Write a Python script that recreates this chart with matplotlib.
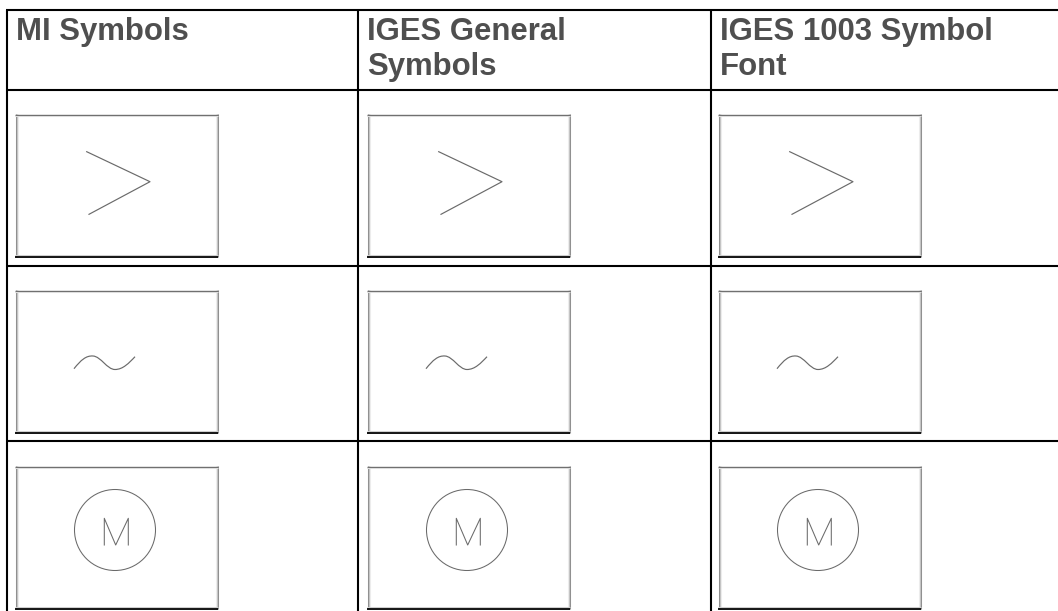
import matplotlib
matplotlib.use("Agg")
import matplotlib.pyplot as plt
from matplotlib.patches import Circle, PathPatch
from matplotlib.path import Path

W, H = 1058, 611
headers = [["MI Symbols"], ["IGES General", "Symbols"], ["IGES 1003 Symbol", "Font"]]
col_lines = [7, 358, 711]
row_lines = [9.5, 89.5, 265.5, 441]
box_lefts = [15, 367, 718]
box_tops = [114, 290, 466]
box_w, box_h = 203, 143
header_baselines = [40, 75]

# symbol geometry relative to box top-left, pixels
arrow_x = [71.7, 135, 74]
arrow_y = [37.7, 67.7, 100.3]
wave_verts = [(59, 78.7), (66, 70), (71, 65.5), (78, 66), (86, 66.5), (92, 79.5), (100, 79.5),
              (108, 79.5), (114, 73), (120, 66.7)]
circle_c = (100, 64)
circle_r = 40.5
m_x = [89.3, 89.3, 100.7, 113.3, 113.3]
m_y = [79, 52.3, 79, 52.3, 79]

fig = plt.figure(figsize=(W / 100, H / 100), dpi=100, facecolor="white")
ax = fig.add_axes([0, 0, 1, 1])
ax.set_xlim(0, W)
ax.set_ylim(H, 0)
ax.axis("off")

# table grid
for x in col_lines:
    ax.plot([x, x], [row_lines[0], H], color="black", lw=1.5, solid_capstyle="butt")
for y in row_lines:
    ax.plot([col_lines[0] - 1, W], [y, y], color="black", lw=1.5, solid_capstyle="butt")

# headers
for left, lines in zip(col_lines, headers):
    for base, text in zip(header_baselines, lines):
        ax.text(left + 9, base, text, fontsize=22.4, fontweight="bold", family="Liberation Sans",
                color="#4f4f4f", ha="left", va="baseline")

SYM = "#6a6a6a"


def box(x0, y0):
    x1, y1 = x0 + box_w, y0 + box_h
    for off, c in [(0.5, "#8f8f8f"), (1.5, "#c4c4c4"), (2.5, "#ececec")]:
        ax.plot([x0 + off] * 2, [y0, y1], color=c, lw=0.75, solid_capstyle="butt")
        ax.plot([x1 - off] * 2, [y0, y1], color=c, lw=0.75, solid_capstyle="butt")
    ax.plot([x0, x1], [y0 + 0.7, y0 + 0.7], color="#6e6e6e", lw=1.0, solid_capstyle="butt")
    ax.plot([x0, x1], [y0 + 2, y0 + 2], color="#dddddd", lw=0.75, solid_capstyle="butt")
    ax.plot([x0, x1], [y1 - 0.3, y1 - 0.3], color="#000000", lw=1.3, solid_capstyle="butt")
    ax.plot([x0, x1], [y1 - 1.7, y1 - 1.7], color="#cfcfcf", lw=0.75, solid_capstyle="butt")


for left in box_lefts:
    for top in box_tops:
        box(left, top)
    t = box_tops[0]
    ax.plot([left + v for v in arrow_x], [t + v for v in arrow_y], color=SYM, lw=0.85)
    t = box_tops[1]
    verts = [(left + a, t + b) for a, b in wave_verts]
    codes = [Path.MOVETO] + [Path.CURVE4] * (len(verts) - 1)
    ax.add_patch(PathPatch(Path(verts, codes), fill=False, edgecolor=SYM, lw=0.85))
    t = box_tops[2]
    ax.add_patch(Circle((left + circle_c[0], t + circle_c[1]), circle_r,
                        fill=False, edgecolor=SYM, lw=0.75))
    ax.plot([left + v for v in m_x], [t + v for v in m_y], color=SYM, lw=0.75)

fig.savefig("out.png", dpi=100, facecolor="white")
